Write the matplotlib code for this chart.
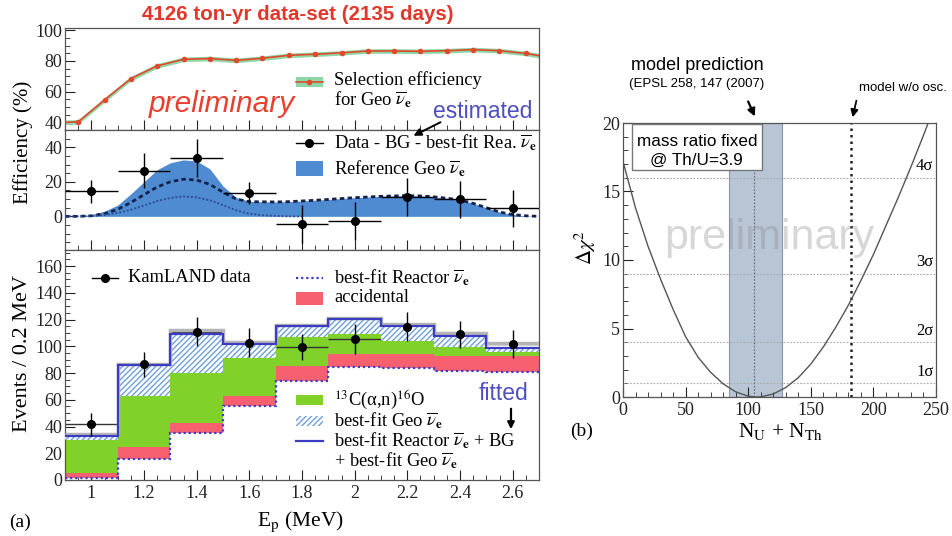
import numpy as np
import matplotlib
matplotlib.use('Agg')
import matplotlib.pyplot as plt
from matplotlib.patches import Rectangle, FancyArrowPatch
from matplotlib.lines import Line2D
from matplotlib.ticker import MultipleLocator, FuncFormatter

plt.rcParams['font.family'] = ['Liberation Serif', 'DejaVu Serif']
plt.rcParams['mathtext.fontset'] = 'stix'
plt.rcParams['hatch.linewidth'] = 1.0
plt.rcParams['hatch.color'] = '#6fa0d8'
SANS = ['Liberation Sans', 'DejaVu Sans']

# ---------------- data ----------------
# (a) top: selection efficiency
eff_x = [0.90, 0.95, 1.05, 1.15, 1.25, 1.35, 1.45, 1.55, 1.65, 1.75, 1.85,
         1.95, 2.05, 2.15, 2.25, 2.35, 2.45, 2.55, 2.65, 2.70]
eff_y = [40.0, 40.3, 54.6, 68.5, 76.8, 81.1, 81.6, 80.4, 81.8, 83.7, 84.4,
         85.3, 86.5, 86.5, 86.3, 86.7, 87.4, 86.7, 84.9, 83.5]

# (a) middle: geo spectrum
curve_x = [0.90, 0.95, 1.00, 1.05, 1.10, 1.15, 1.20, 1.25, 1.30, 1.35, 1.40,
           1.45, 1.50, 1.55, 1.60, 1.65, 1.70, 1.75, 1.80, 1.85, 1.90, 1.95,
           2.00, 2.05, 2.10, 2.15, 2.20, 2.25, 2.30, 2.35, 2.40, 2.45, 2.50,
           2.55, 2.60, 2.65, 2.70]
ref_geo = [0, 0, 1.0, 3.0, 6.5, 13, 20, 27, 31, 32.7, 32, 27.5, 17.5, 11,
           8.7, 8.4, 8.3, 8.5, 8.9, 9.3, 9.8, 10.3, 10.8, 11.2, 11.6, 11.8,
           12.0, 11.8, 11.3, 10.5, 9.5, 7.5, 5.0, 2.5, 1.0, 0.3, 0]
fit_geo = [0, 0, 0.3, 1.5, 4, 8, 12.5, 17, 20, 21.5, 21, 18.5, 14, 10,
           8.5, 8.4, 8.3, 8.5, 8.9, 9.3, 9.8, 10.3, 10.8, 11.2, 11.6, 11.8,
           12.0, 11.8, 11.3, 10.5, 9.5, 7.5, 5.0, 2.5, 1.0, 0.3, 0]
fit_low_x = [0.90, 0.95, 1.00, 1.05, 1.10, 1.15, 1.20, 1.25, 1.30, 1.35,
             1.40, 1.45, 1.50, 1.55, 1.60, 1.65, 1.70, 1.75, 1.80]
fit_low = [0, 0, 0.2, 0.8, 2, 3.8, 6.3, 8.8, 10.7, 11.5, 11, 9.3, 6.5, 3.5,
           1.5, 0.6, 0.2, 0, 0]
sub_x = [1.0, 1.2, 1.4, 1.6, 1.8, 2.0, 2.2, 2.4, 2.6]
sub_y = [14.5, 26.4, 33.7, 13.7, -4.2, -2.7, 11.0, 9.8, 4.6]
sub_err = [6.7, 10.0, 11.0, 6.3, 11.0, 11.0, 11.0, 10.6, 10.8]

# (a) bottom: stacked spectrum
edges = [0.9, 1.1, 1.3, 1.5, 1.7, 1.9, 2.1, 2.3, 2.5, 2.7]
reactor = [1.5, 16.0, 35.5, 55.0, 74.0, 84.5, 83.5, 81.5, 80.5]
accidental = [3.5, 8.5, 7.0, 8.0, 11.0, 10.0, 10.5, 11.0, 12.5]
c13 = [25.0, 38.5, 37.5, 28.5, 22.0, 14.5, 10.0, 7.0, 3.0]
geo = [3.0, 23.0, 29.0, 10.5, 8.0, 11.5, 11.5, 8.5, 2.5]
grey_fit = [34.5, 86.5, 112.0, 103.0, 116.0, 121.5, 116.5, 110.0, 102.5]
data_x = [1.0, 1.2, 1.4, 1.6, 1.8, 2.0, 2.2, 2.4, 2.6]
data_y = [41.6, 86.7, 110.9, 102.7, 99.2, 105.4, 114.6, 109.0, 101.7]
data_err = [8.7, 9.3, 11.0, 10.6, 9.8, 11.2, 10.8, 10.2, 10.3]

# (b) delta chi2 scan
n_tot = [0, 10, 20, 30, 40, 50, 60, 70, 80, 90, 100, 107, 110, 120, 130, 140,
         150, 160, 170, 180, 190, 200, 210, 220, 230, 240, 250]
dchi2 = [17.2, 13.8, 11.0, 8.6, 6.4, 4.4, 2.9, 1.8, 0.96, 0.38, 0.06, 0.0,
         0.01, 0.22, 0.69, 1.41, 2.4, 3.65, 5.1, 6.7, 8.5, 10.4, 12.5, 14.6,
         16.8, 19.1, 21.5]
model_band = [85, 127]
model_center = 105
model_noosc = 182
sigma_levels = [1, 4, 9, 16]
sigma_labels = ['1σ', '2σ', '3σ', '4σ']

# ---------------- figure ----------------
W, H = 953.0, 536.0
fig = plt.figure(figsize=(W / 100, H / 100), dpi=100)


def add_ax(x0, y0, x1, y1):
    return fig.add_axes([x0 / W, 1 - y1 / H, (x1 - x0) / W, (y1 - y0) / H])


def P(x, y):
    return (x / W, 1 - y / H)


def ftext(x, y, s, **kw):
    kw.setdefault('va', 'center')
    return fig.text(x / W, 1 - y / H, s, **kw)


def frect(x0, y0, x1, y1, **kw):
    r = Rectangle(P(x0, y1), (x1 - x0) / W, (y1 - y0) / H,
                  transform=fig.transFigure, **kw)
    fig.add_artist(r)


def fline(x0, y0, x1, y1, **kw):
    fig.add_artist(Line2D([x0 / W, x1 / W], [1 - y0 / H, 1 - y1 / H],
                          transform=fig.transFigure, **kw))


def farrow(x0, y0, x1, y1, lw=1.5, ms=11):
    fig.add_artist(FancyArrowPatch(P(x0, y0), P(x1, y1),
                                   transform=fig.transFigure,
                                   arrowstyle='-|>', mutation_scale=ms,
                                   lw=lw, color='black'))


def style(ax):
    ax.tick_params(which='both', direction='in', top=False, right=False,
                   labelsize=13, colors='#222222')
    ax.tick_params(axis='y', pad=2)
    ax.tick_params(which='major', length=7)
    ax.tick_params(which='minor', length=3.5)
    for s in ax.spines.values():
        s.set_color('#555555')
        s.set_linewidth(0.9)


LX0, LX1 = 65, 539
ax1 = add_ax(LX0, 28, LX1, 130)
ax2 = add_ax(LX0, 130, LX1, 250)
ax3 = add_ax(LX0, 250, LX1, 480)
ax4 = add_ax(623, 123, 936, 397)

for ax in (ax1, ax2, ax3):
    style(ax)
    ax.set_xlim(edges[0], edges[-1])
    ax.xaxis.set_major_locator(MultipleLocator(0.2))
    ax.xaxis.set_minor_locator(MultipleLocator(0.05))
ax1.tick_params(labelbottom=False)
ax2.tick_params(labelbottom=False)

# --- top panel ---
ey = np.array(eff_y)
ax1.fill_between(eff_x, ey - 1.5, ey + 1.5, color='#8fd6a6', lw=0, zorder=2)
ax1.plot(eff_x, eff_y, color='#df4a2c', lw=1.2, zorder=3)
ax1.plot(eff_x[1:-1], eff_y[1:-1], 'o', color='#df4a2c', ms=3, zorder=4)
ax1.set_ylim(35, 101.5)
ax1.yaxis.set_major_locator(MultipleLocator(20))
ax1.yaxis.set_minor_locator(MultipleLocator(5))

# --- middle panel ---
ax2.fill_between(curve_x, 0, ref_geo, color='#4f8bd0', lw=0, zorder=2)
ax2.plot(curve_x, fit_geo, color='#16224d', lw=2.0,
         linestyle=(0, (1.6, 1.2)), zorder=3)
ax2.plot(fit_low_x, fit_low, color='#2d4d95', lw=1.4,
         linestyle=(0, (1, 1)), zorder=3)
ax2.errorbar(sub_x, sub_y, yerr=sub_err, xerr=0.1, fmt='o', color='black',
             ms=5.5, lw=1, capsize=0, zorder=5)
ax2.set_ylim(-19.5, 50)
ax2.yaxis.set_major_locator(MultipleLocator(20))
ax2.yaxis.set_minor_locator(MultipleLocator(5))

# --- bottom panel ---
lefts = edges[:-1]
b_acc = np.array(reactor)
b_c13 = b_acc + np.array(accidental)
b_geo = b_c13 + np.array(c13)
total = b_geo + np.array(geo)
ax3.bar(lefts, accidental, width=0.2, bottom=b_acc, align='edge',
        color='#f6606f', lw=0, zorder=2)
ax3.bar(lefts, c13, width=0.2, bottom=b_c13, align='edge',
        color='#80d12a', lw=0, zorder=2)
ax3.hlines(data_y, np.array(data_x) - 0.1, np.array(data_x) + 0.1,
           color='#333333', lw=1, zorder=2.5)
ax3.bar(lefts, geo, width=0.2, bottom=b_geo, align='edge',
        facecolor='white', edgecolor='#6fa0d8', hatch='//////', lw=0,
        zorder=3)
ax3.stairs(grey_fit, edges, baseline=None, color='#b5b5b5', lw=2.5, zorder=3.5)
ax3.stairs(total, edges, baseline=None, color='#3b3bc4', lw=1.6, zorder=4)
ax3.stairs(reactor, edges, baseline=None, color='#3b3bd0', lw=1.6,
           linestyle=(0, (1, 1.3)), zorder=4)
ax3.errorbar(data_x, data_y, yerr=data_err, fmt='o', color='black', ms=5.5,
             lw=1, capsize=0, zorder=6)
ax3.set_ylim(0, 172)
ax3.yaxis.set_major_locator(MultipleLocator(20))
ax3.yaxis.set_minor_locator(MultipleLocator(5))
ax3.xaxis.set_major_formatter(FuncFormatter(lambda v, p: '%g' % round(v, 2)))

# --- (b) panel ---
style(ax4)
ax4.set_xlim(0, 250)
ax4.set_ylim(0, 20)
ax4.xaxis.set_major_locator(MultipleLocator(50))
ax4.xaxis.set_minor_locator(MultipleLocator(10))
ax4.yaxis.set_major_locator(MultipleLocator(5))
ax4.yaxis.set_minor_locator(MultipleLocator(1))
ax4.axvspan(model_band[0], model_band[1], facecolor='#b7c5d5',
            edgecolor='#8797aa', lw=0.8, zorder=1)
for lv in sigma_levels:
    ax4.axhline(lv, color='#aaaaaa', lw=0.8, linestyle=(0, (1.5, 1.5)),
                zorder=2)
for lv, lab in zip(sigma_levels, sigma_labels):
    ax4.text(241, lv + 0.85, lab, ha='center', va='center', fontsize=12,
             zorder=5)
ax4.axvline(model_center, color='#666666', lw=0.8, linestyle=(0, (1.5, 1.5)),
            zorder=2)
ax4.axvline(model_noosc, color='#222222', lw=1.8, linestyle=(0, (1, 1.6)),
            zorder=3)
ax4.plot(n_tot, dchi2, color='#555555', lw=1.0, zorder=4)
ax4.text(117, 11.6, 'preliminary', fontsize=31, family=SANS, color='#888888',
         alpha=0.33, ha='center', va='center', zorder=6)
ax4.add_patch(Rectangle((6.8, 16.6), 104.5, 3.3, facecolor='white',
                        edgecolor='#777777', lw=1.0, zorder=7))
ax4.text(59, 18.65, 'mass ratio fixed', fontsize=12.3, family=SANS,
         ha='center', va='center', zorder=8)
ax4.text(59, 17.25, '@ Th/U=3.9', fontsize=12.3, family=SANS,
         ha='center', va='center', zorder=8)

# ---------------- texts ----------------
NUE = r'$\overline{\nu}_{\mathbf{e}}$'
ftext(298, 14, '4126 ton-yr data-set (2135 days)', ha='center',
      fontsize=14.8, fontweight='bold', family=SANS, color='#e2382c')
ftext(222, 104, 'preliminary', ha='center', fontsize=21.5, style='italic',
      family=SANS, color='#e8402f')
ftext(483, 112, 'estimated', ha='center', fontsize=16.5, family=SANS,
      color='#4f4fc0')
farrow(443, 121, 411, 137, lw=1.4)
ftext(504, 394, 'fitted', ha='center', fontsize=16.5, family=SANS,
      color='#4f4fc0')
farrow(511, 406, 511, 432, lw=1.6, ms=10)

LEGX0, LEGX1, TX = 296, 323, 334
FS = 13.3
# top legend
frect(LEGX0, 77, LEGX1, 86.5, facecolor='#8fd6a6', lw=0)
fline(LEGX0, 81.7, LEGX1, 81.7, color='#df4a2c', lw=1.2)
fig.add_artist(Line2D([309.5 / W], [1 - 81.7 / H], marker='o', ms=3,
                      color='#df4a2c', transform=fig.transFigure))
ftext(TX, 80, 'Selection efficiency', fontsize=FS)
ftext(TX, 100, 'for Geo ' + NUE, fontsize=FS)
# middle legend
fline(LEGX0, 143, LEGX1, 143, color='black', lw=1)
fig.add_artist(Line2D([309.5 / W], [1 - 143 / H], marker='o', ms=5.5,
                      color='black', transform=fig.transFigure))
ftext(TX, 143, 'Data - BG - best-fit Rea. ' + NUE, fontsize=FS)
frect(LEGX0, 161, LEGX1, 176, facecolor='#4f8bd0', lw=0)
ftext(TX, 169, 'Reference Geo ' + NUE, fontsize=FS)
# bottom legends
fline(92, 278, 118, 278, color='black', lw=1)
fig.add_artist(Line2D([105 / W], [1 - 278 / H], marker='o', ms=5.5,
                      color='black', transform=fig.transFigure))
ftext(128, 278, 'KamLAND data', fontsize=FS)
fline(LEGX0, 278, LEGX1, 278, color='#3b3bd0', lw=1.6,
      linestyle=(0, (1, 1.3)))
ftext(TX, 278, 'best-fit Reactor ' + NUE, fontsize=FS)
frect(LEGX0, 292, LEGX1, 305, facecolor='#f6606f', lw=0)
ftext(TX, 298, 'accidental', fontsize=FS)
frect(LEGX0, 395, LEGX1, 405, facecolor='#80d12a', lw=0)
ftext(TX, 400, '$^{13}$C(α,n)$^{16}$O', fontsize=FS)
frect(LEGX0, 416, LEGX1, 426, facecolor='white', edgecolor='#6fa0d8',
      hatch='//////', lw=0)
ftext(TX, 421, 'best-fit Geo ' + NUE, fontsize=FS)
fline(LEGX0, 441, LEGX1, 441, color='#3b3bc4', lw=1.6)
ftext(TX, 441, 'best-fit Reactor ' + NUE + ' + BG', fontsize=FS)
ftext(TX, 461, '+ best-fit Geo ' + NUE, fontsize=FS)

# axis titles
ftext(23, 142, 'Efficiency (%)', rotation=90, ha='center', fontsize=15)
ftext(23, 354, 'Events / 0.2 MeV', rotation=90, ha='center', fontsize=16)
ftext(300, 522, r'E$_{\rm p}$ (MeV)', ha='center', fontsize=15.5)
ftext(20, 522, '(a)', ha='center', fontsize=14)

ftext(585, 248, r'$\Delta\chi^2$', rotation=90, ha='center', fontsize=15)
ftext(780, 431, r'N$_{\rm U}$ + N$_{\rm Th}$', ha='center', fontsize=15.5)
ftext(582, 431, '(b)', ha='center', fontsize=14)

ftext(697, 65, 'model prediction', ha='center', fontsize=13, family=SANS)
ftext(697, 84, '(EPSL 258, 147 (2007)', ha='center', fontsize=9.5,
      family=SANS)
farrow(747, 99, 756, 119, lw=1.6)
ftext(903, 88, 'model w/o osc.', ha='center', fontsize=9.5, family=SANS)
farrow(857, 98, 852, 120, lw=1.3)

fig.savefig('out.png', dpi=100)
